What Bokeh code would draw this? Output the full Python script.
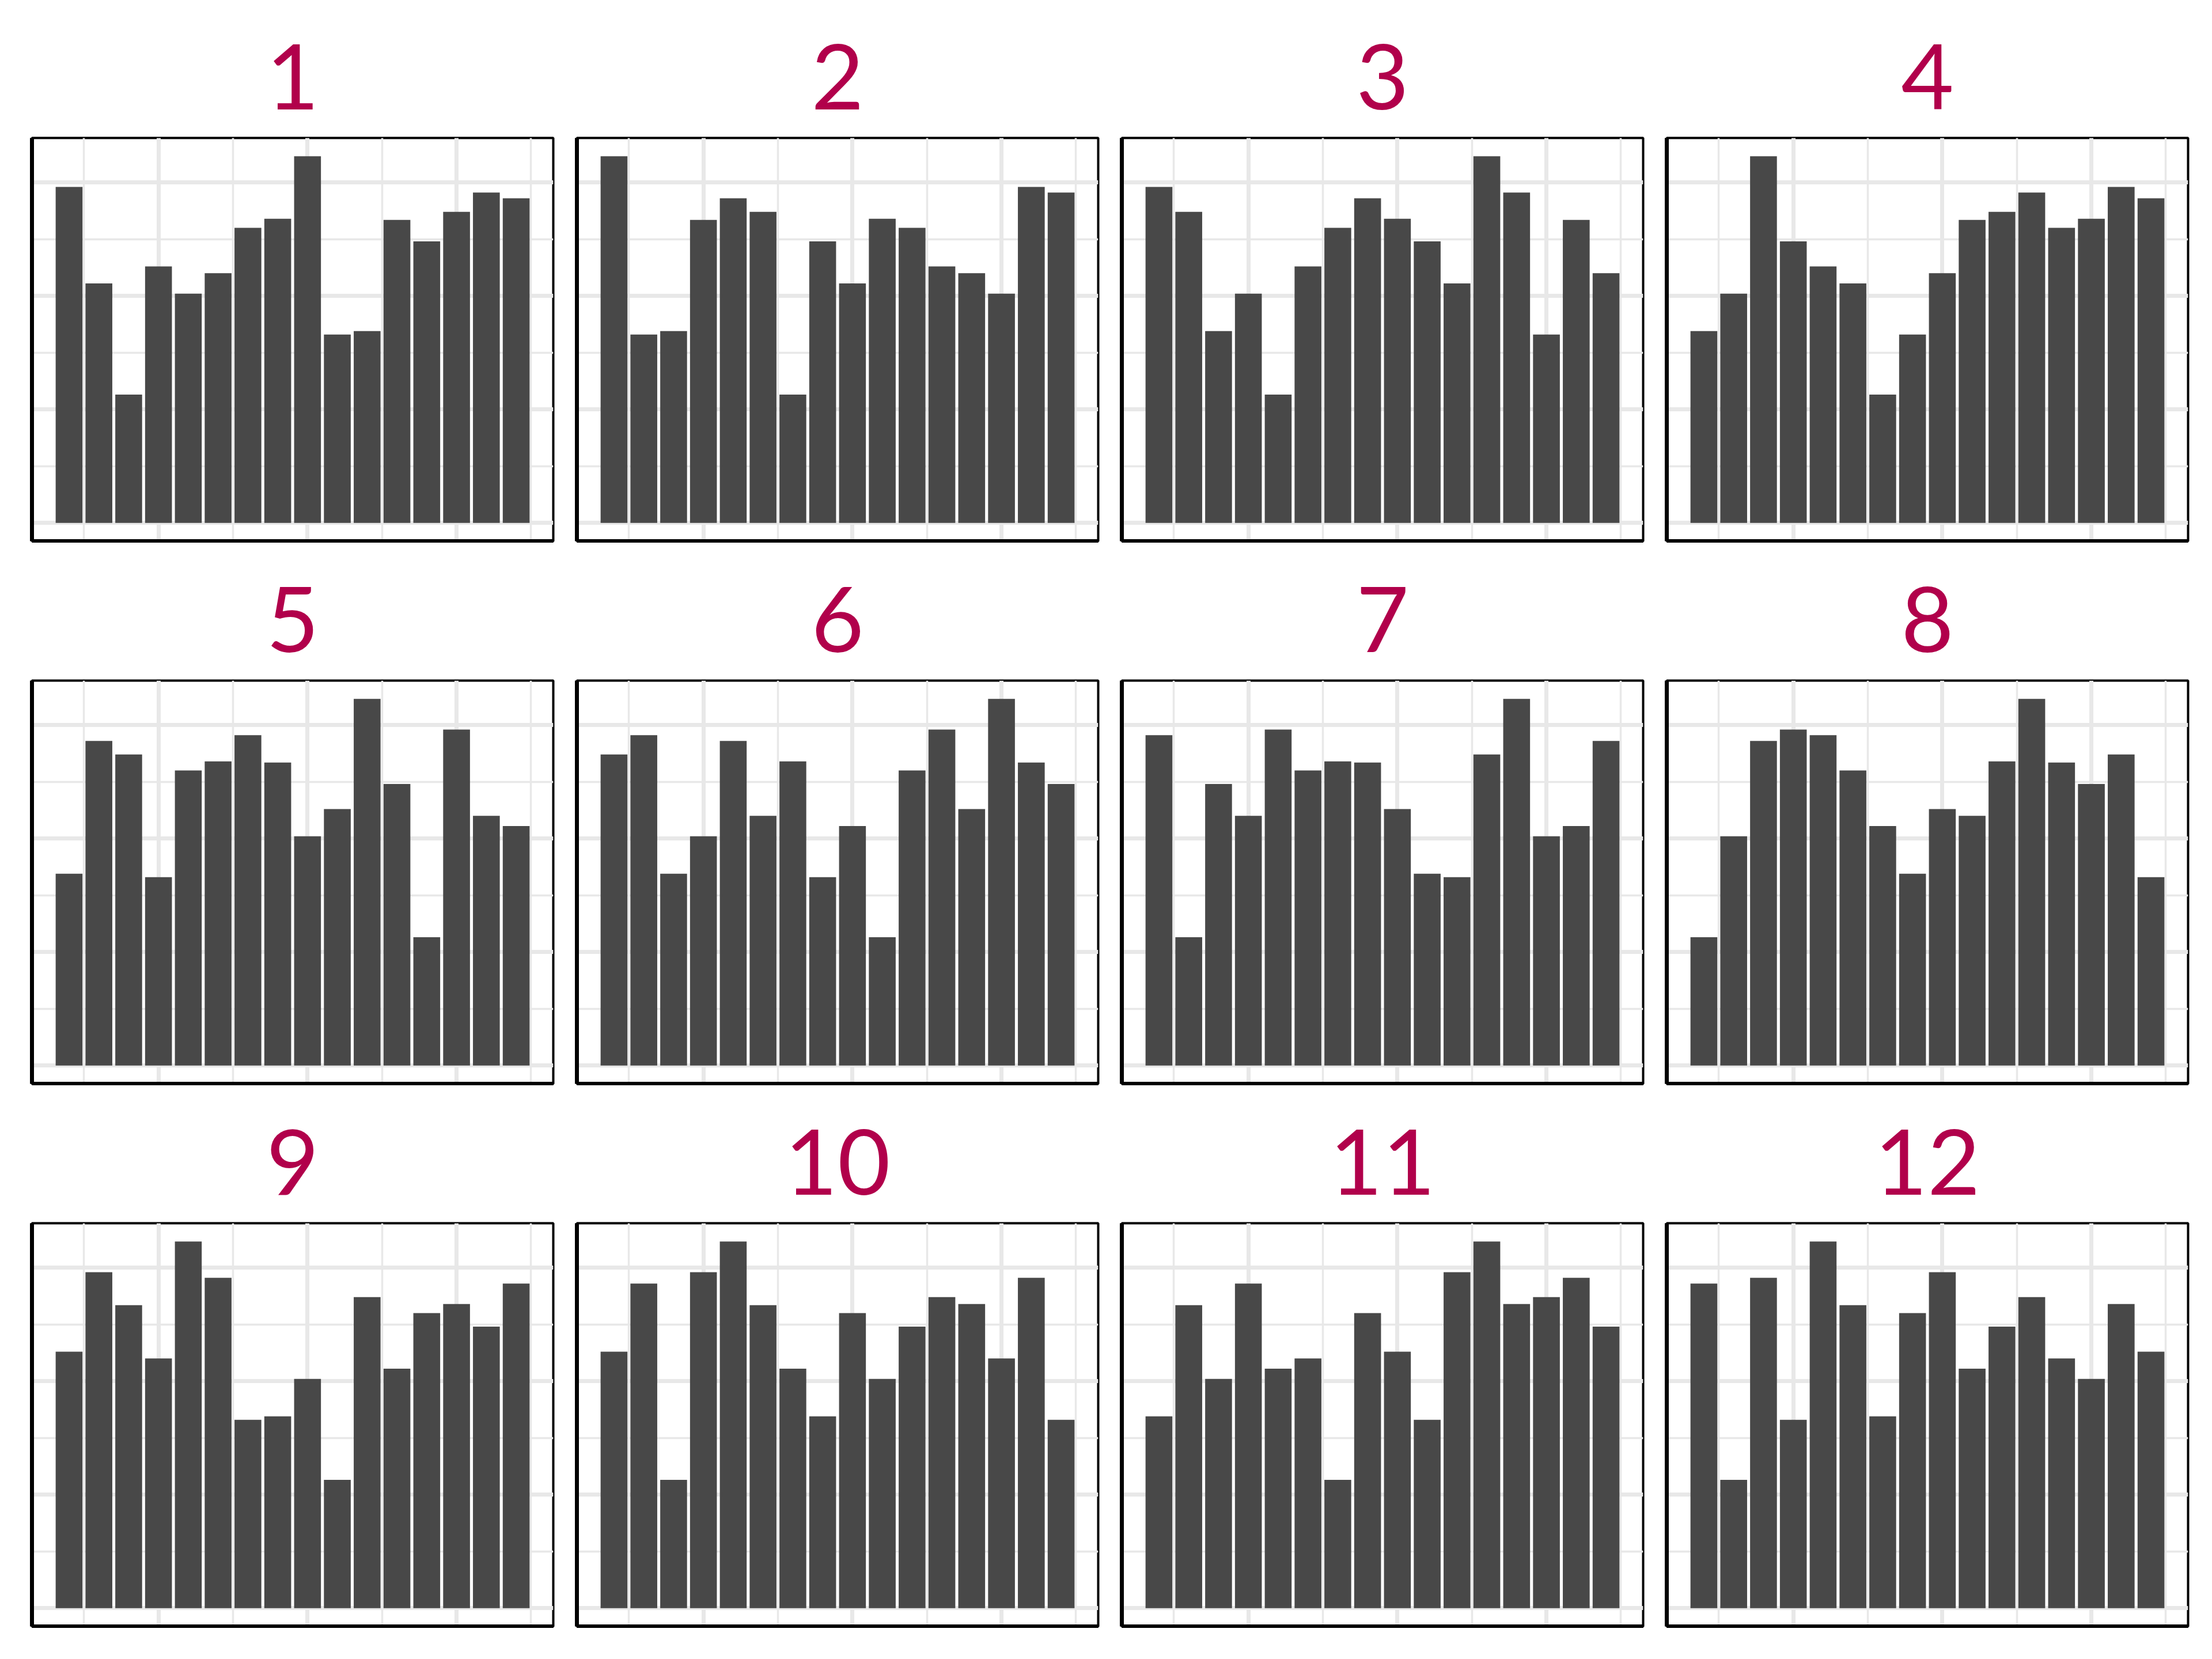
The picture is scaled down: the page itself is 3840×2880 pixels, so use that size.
from bokeh.plotting import figure
from bokeh.layouts import gridplot
from bokeh.models import Range1d, FixedTicker
from bokeh.embed import file_html
from bokeh.resources import INLINE

years = list(range(2002, 2018))

panel_labels = ["1", "2", "3", "4", "5", "6", "7", "8", "9", "10", "11", "12"]

panel_1 = [29.6, 21.1, 11.3, 22.6, 20.2, 22.0, 26.0, 26.8, 32.3, 16.6, 16.9, 26.7, 24.8, 27.4, 29.1, 28.6]
panel_2 = [32.3, 16.6, 16.9, 26.7, 28.6, 27.4, 11.3, 24.8, 21.1, 26.8, 26.0, 22.6, 22.0, 20.2, 29.6, 29.1]
panel_3 = [29.6, 27.4, 16.9, 20.2, 11.3, 22.6, 26.0, 28.6, 26.8, 24.8, 21.1, 32.3, 29.1, 16.6, 26.7, 22.0]
panel_4 = [16.9, 20.2, 32.3, 24.8, 22.6, 21.1, 11.3, 16.6, 22.0, 26.7, 27.4, 29.1, 26.0, 26.8, 29.6, 28.6]
panel_5 = [16.9, 28.6, 27.4, 16.6, 26.0, 26.8, 29.1, 26.7, 20.2, 22.6, 32.3, 24.8, 11.3, 29.6, 22.0, 21.1]
panel_6 = [27.4, 29.1, 16.9, 20.2, 28.6, 22.0, 26.8, 16.6, 21.1, 11.3, 26.0, 29.6, 22.6, 32.3, 26.7, 24.8]
panel_7 = [29.1, 11.3, 24.8, 22.0, 29.6, 26.0, 26.8, 26.7, 22.6, 16.9, 16.6, 27.4, 32.3, 20.2, 21.1, 28.6]
panel_8 = [11.3, 20.2, 28.6, 29.6, 29.1, 26.0, 21.1, 16.9, 22.6, 22.0, 26.8, 32.3, 26.7, 24.8, 27.4, 16.6]
panel_9 = [22.6, 29.6, 26.7, 22.0, 32.3, 29.1, 16.6, 16.9, 20.2, 11.3, 27.4, 21.1, 26.0, 26.8, 24.8, 28.6]
panel_10 = [22.6, 28.6, 11.3, 29.6, 32.3, 26.7, 21.1, 16.9, 26.0, 20.2, 24.8, 27.4, 26.8, 22.0, 29.1, 16.6]
panel_11 = [16.9, 26.7, 20.2, 28.6, 21.1, 22.0, 11.3, 26.0, 22.6, 16.6, 29.6, 32.3, 26.8, 27.4, 29.1, 24.8]
panel_12 = [28.6, 11.3, 29.1, 16.6, 32.3, 26.7, 16.9, 26.0, 29.6, 21.1, 24.8, 27.4, 22.0, 20.2, 26.8, 22.6]

panels = [panel_1, panel_2, panel_3, panel_4, panel_5, panel_6,
          panel_7, panel_8, panel_9, panel_10, panel_11, panel_12]

x_major = [2005, 2010, 2015]
x_minor = [2002.5, 2007.5, 2012.5, 2017.5]
y_major = [0, 10, 20, 30]
y_minor = [5, 15, 25]

BAR = "#484848"
GRID = "#E8E8E8"
TITLE = "#B1004B"

ymax = max(max(v) for v in panels)
xspan = (years[-1] + 0.45) - (years[0] - 0.45)

figs = []
for i, (lab, vals) in enumerate(zip(panel_labels, panels)):
    col = i % 4
    p = figure(
        frame_width=905, frame_height=700,
        output_backend="svg", toolbar_location=None,
        x_range=Range1d(years[0] - 0.45 - 0.05 * xspan, years[-1] + 0.45 + 0.05 * xspan),
        y_range=Range1d(-0.05 * ymax, 1.05 * ymax),
        min_border_left=55 if col == 0 else 21,
        min_border_right=20,
        min_border_top=239,
        min_border_bottom=3,
        background_fill_color="white",
        border_fill_color="white",
    )
    p.vbar(x=years, top=vals, bottom=0, width=0.9, fill_color=BAR, line_color=None)

    p.xgrid.ticker = FixedTicker(ticks=x_major, minor_ticks=x_minor)
    p.ygrid.ticker = FixedTicker(ticks=y_major, minor_ticks=y_minor)
    for g in (p.xgrid, p.ygrid):
        g.grid_line_color = GRID
        g.grid_line_width = 7
        g.minor_grid_line_color = GRID
        g.minor_grid_line_width = 3.5

    for ax in (p.xaxis, p.yaxis):
        ax.ticker = FixedTicker(ticks=[])
        ax.axis_line_color = "black"
        ax.axis_line_width = 7
        ax.major_tick_out = 0
        ax.major_tick_in = 0
        ax.minor_tick_out = 0
        ax.minor_tick_in = 0
        ax.major_label_standoff = 0

    p.outline_line_color = "black"
    p.outline_line_width = 4

    p.title.text = lab
    p.title.align = "center"
    p.title.text_font = "Lato"
    p.title.text_font_size = "158px"
    p.title.text_font_style = "normal"
    p.title.text_color = TITLE
    p.title.standoff = 100
    figs.append(p)

grid = gridplot(figs, ncols=4, toolbar_location=None)

open("out.html", "w").write(file_html(grid, INLINE))
